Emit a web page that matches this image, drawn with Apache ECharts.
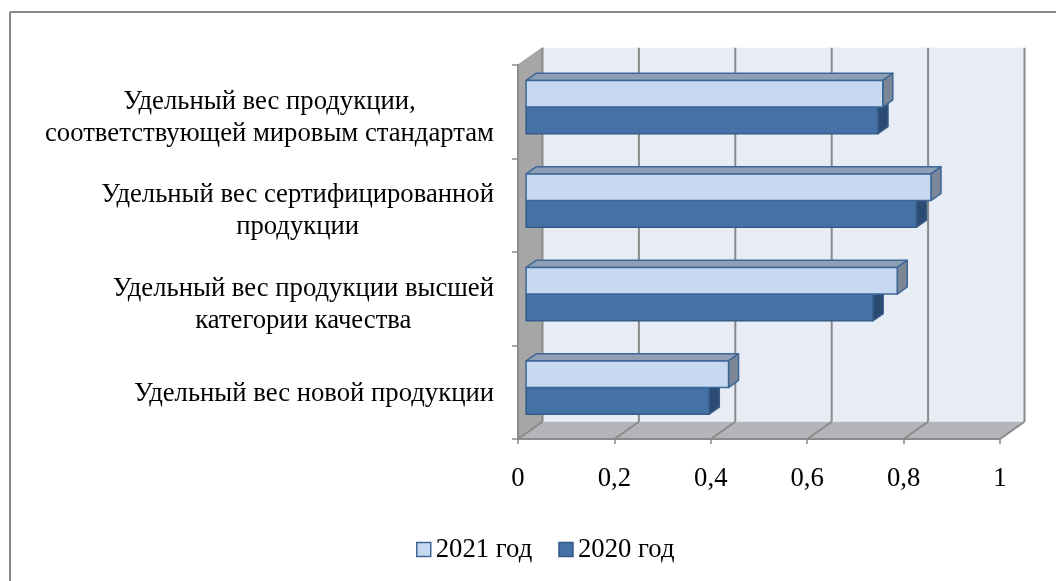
<!DOCTYPE html>
<html>
<head>
<meta charset="utf-8">
<script src="https://cdn.jsdelivr.net/npm/echarts@6/dist/echarts.min.js"></script>
<style>
  html, body { margin: 0; padding: 0; background: #fff; }
  #chart { width: 1056px; height: 581px; }
</style>
</head>
<body>
<div id="chart"></div>
<script>
// Categories listed bottom-to-top, as the value axis grows to the right
const categories = [
  'Удельный вес новой продукции',
  'Удельный вес продукции высшей\nкатегории качества',
  'Удельный вес сертифицированной\nпродукции',
  'Удельный вес продукции,\nсоответствующей мировым стандартам'
];
const seriesNames = ['2021 год', '2020 год'];
const values2021 = [0.42, 0.77, 0.84, 0.74];
const values2020 = [0.38, 0.72, 0.81, 0.73];
const xTicks = [0, 0.2, 0.4, 0.6, 0.8, 1];

// Pseudo-3D box: offset of the back wall relative to the front plane
const DX = 24.5, DY = -17.3;
// Depth slice that the bars occupy (0 = front plane, 1 = back wall)
const BAR_F0 = 0.33, BAR_F1 = 0.74;
const BAR_FRAC = 0.285;
const FONT = '"Liberation Serif", "Times New Roman", serif';
const FS = 26.7;
const EDGE = '#8a8a8a';

const palette = {
  '2021 год': { front: '#c6d9f1', top: '#8f9fb6', side: '#7b8797', stroke: '#3e6798' },
  '2020 год': { front: '#4472a6', top: '#3b6291', side: '#2c4b72', stroke: '#345a88' }
};

function renderWalls(params, api) {
  const n = categories.length;
  const band = api.size([0, 1])[1];
  const xa = api.coord([0, 0])[0];
  const xb = api.coord([1, 0])[0];
  const yBottom = api.coord([0, 0])[1] + band / 2;
  const yTop = api.coord([0, n - 1])[1] - band / 2;
  const children = [];
  // back wall
  children.push({ type: 'rect', shape: { x: xa + DX, y: yTop + DY, width: xb - xa, height: yBottom - yTop },
    style: { fill: '#e8ecf5', stroke: null } });
  // left side wall
  children.push({ type: 'polygon', shape: { points: [[xa, yTop], [xa + DX, yTop + DY], [xa + DX, yBottom + DY], [xa, yBottom]] },
    style: { fill: '#a6a6a6', stroke: '#999', lineWidth: 1 } });
  // floor
  children.push({ type: 'polygon', shape: { points: [[xa, yBottom], [xa + DX, yBottom + DY], [xb + DX, yBottom + DY], [xb, yBottom]] },
    style: { fill: '#b3b5b9', stroke: null } });
  // grid lines on the back wall and across the floor
  xTicks.forEach(function (t) {
    const x = api.coord([t, 0])[0];
    children.push({ type: 'line', shape: { x1: x + DX, y1: yTop + DY, x2: x + DX, y2: yBottom + DY },
      style: { stroke: EDGE, lineWidth: 2 } });
    children.push({ type: 'line', shape: { x1: x + DX, y1: yBottom + DY, x2: x, y2: yBottom },
      style: { stroke: EDGE, lineWidth: 2 } });
  });
  return { type: 'group', children: children };
}

function makeBarRenderer(name, upper) {
  const c = palette[name];
  return function (params, api) {
    const v = api.value(0);
    const ci = api.value(1);
    const p0 = api.coord([0, ci]);
    const p1 = api.coord([v, ci]);
    const band = api.size([0, 1])[1];
    const h = band * BAR_FRAC;
    const cy = p0[1] + DY * BAR_F0 + 1;
    const y0 = upper ? cy - h : cy;
    const x0 = p0[0] + DX * BAR_F0;
    const x1 = p1[0] + DX * BAR_F0;
    const ddx = DX * (BAR_F1 - BAR_F0);
    const ddy = DY * (BAR_F1 - BAR_F0);
    const stroke = { stroke: c.stroke, lineWidth: 1.5, lineJoin: 'round' };
    return {
      type: 'group',
      children: [
        { type: 'polygon', shape: { points: [[x0, y0], [x0 + ddx, y0 + ddy], [x1 + ddx, y0 + ddy], [x1, y0]] },
          style: Object.assign({ fill: c.top }, stroke) },
        { type: 'polygon', shape: { points: [[x1, y0], [x1 + ddx, y0 + ddy], [x1 + ddx, y0 + h + ddy], [x1, y0 + h]] },
          style: Object.assign({ fill: c.side }, stroke) },
        { type: 'rect', shape: { x: x0, y: y0, width: x1 - x0, height: h },
          style: Object.assign({ fill: c.front }, stroke) }
      ]
    };
  };
}

// Category items: two-line captions sit a little lower than single-line ones
const yCategoryData = categories.map(function (name) {
  const multi = name.indexOf('\n') >= 0;
  return { value: name, textStyle: { padding: [multi ? 12 : 4, 0, 0, 0] } };
});

const chart = echarts.init(document.getElementById('chart'), null, { renderer: 'canvas' });

chart.setOption({
  backgroundColor: '#ffffff',
  animation: false,
  textStyle: { fontFamily: FONT },
  graphic: [
    { type: 'line', shape: { x1: 10, y1: 12, x2: 1056, y2: 12 }, style: { stroke: '#878787', lineWidth: 2 } },
    { type: 'line', shape: { x1: 10, y1: 12, x2: 10, y2: 581 }, style: { stroke: '#878787', lineWidth: 2 } }
  ],
  grid: { left: 518, top: 65, width: 482, height: 374, containLabel: false },
  legend: {
    data: seriesNames.map(function (n) {
      return { name: n, itemStyle: { color: palette[n].front, borderColor: palette[n].stroke, borderWidth: 1.5 } };
    }),
    left: 416,
    top: 536,
    padding: 0,
    icon: 'rect',
    itemWidth: 14,
    itemHeight: 14,
    itemGap: 26,
    textStyle: { fontFamily: FONT, fontSize: FS, color: '#000', lineHeight: 26 }
  },
  xAxis: {
    type: 'value',
    min: 0,
    max: 1,
    interval: 0.2,
    z: 5,
    axisLine: { show: true, lineStyle: { color: EDGE, width: 2 } },
    axisTick: { show: true, length: 5, lineStyle: { color: EDGE, width: 1.5 } },
    splitLine: { show: false },
    axisLabel: {
      margin: 27,
      fontFamily: FONT,
      fontSize: FS,
      lineHeight: 26,
      color: '#000',
      formatter: function (v) { return String(Math.round(v * 10) / 10).replace('.', ','); }
    }
  },
  yAxis: {
    type: 'category',
    data: yCategoryData,
    z: 5,
    axisLine: { show: true, lineStyle: { color: EDGE, width: 2 } },
    axisTick: { show: true, length: 6, lineStyle: { color: EDGE, width: 1.5 } },
    splitLine: { show: false },
    axisLabel: {
      margin: 24,
      color: '#000',
      fontFamily: FONT,
      fontSize: FS,
      lineHeight: 32,
      formatter: function (v) {
        return v.split('\n').map(function (s) { return '{c|' + s + '}'; }).join('\n');
      },
      rich: {
        c: { align: 'center', fontFamily: FONT, fontSize: FS, lineHeight: 32, color: '#000' }
      }
    }
  },
  series: [
    {
      name: 'walls',
      type: 'custom',
      silent: true,
      z: 1,
      clip: false,
      renderItem: renderWalls,
      data: [[0, 0]]
    },
    {
      name: seriesNames[0],
      type: 'custom',
      z: 4,
      clip: false,
      itemStyle: { color: palette[seriesNames[0]].front },
      renderItem: makeBarRenderer(seriesNames[0], true),
      encode: { x: 0, y: 1 },
      data: values2021.map(function (v, i) { return [v, i]; })
    },
    {
      name: seriesNames[1],
      type: 'custom',
      z: 3,
      clip: false,
      itemStyle: { color: palette[seriesNames[1]].front },
      renderItem: makeBarRenderer(seriesNames[1], false),
      encode: { x: 0, y: 1 },
      data: values2020.map(function (v, i) { return [v, i]; })
    }
  ]
});
</script>
</body>
</html>
